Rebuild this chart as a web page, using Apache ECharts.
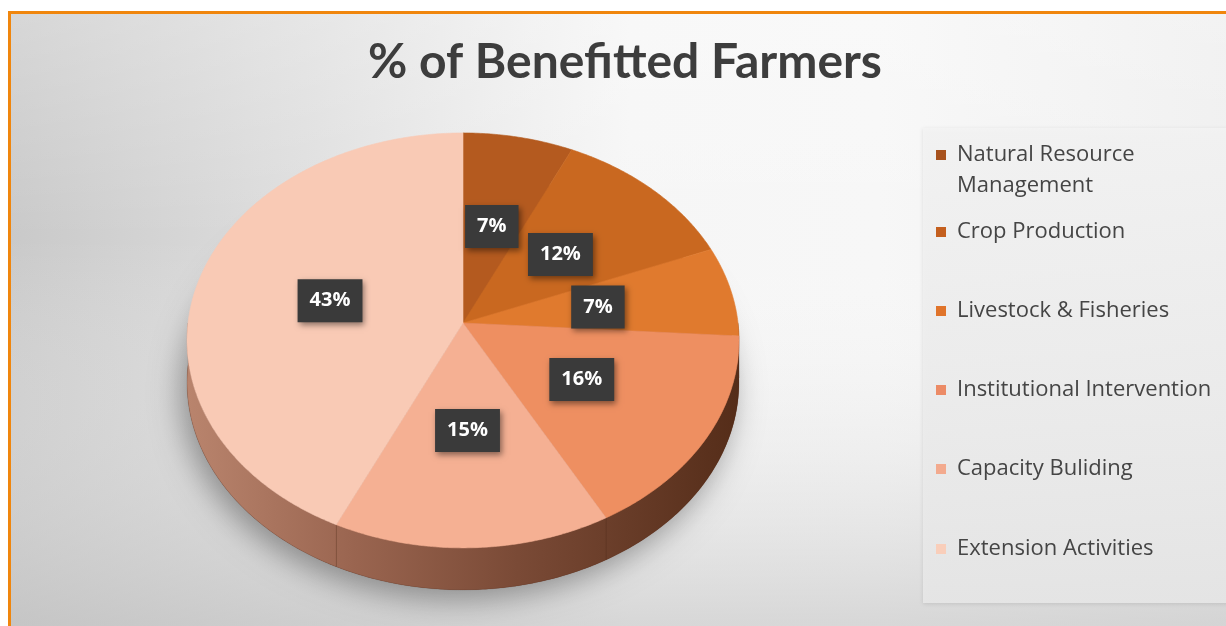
<!DOCTYPE html>
<html>
<head>
<meta charset="utf-8">
<script src="https://cdn.jsdelivr.net/npm/echarts@6/dist/echarts.min.js"></script>
<style>
  html, body { margin: 0; padding: 0; background: #ffffff; }
  #chart { width: 1226px; height: 626px; }
</style>
</head>
<body>
<div id="chart"></div>
<script>
// Share of benefitted farmers by activity (percent)
const categories = [
  'Natural Resource Management',
  'Crop Production',
  'Livestock & Fisheries',
  'Institutional Intervention',
  'Capacity Buliding',
  'Extension Activities'
];
const shares = [7, 12, 7, 16, 15, 43];
const sliceColors = ['#b45a1f', '#c96820', '#e07a2e', '#ee8f61', '#f5b093', '#f9cab5'];
const legendColors = ['#a8521d', '#c45f1e', '#e0742b', '#ec8b66', '#f3aa8e', '#f9ceba'];

// Tilted-disc geometry for the pie (simple perspective projection)
const CX = 463, CY = 323, RX = 275, RA = 206, PK = 0.084, DEPTH = 42;
const LABEL_R = 0.5;

const total = shares.reduce((s, v) => s + v, 0);

function project(theta, r, dy) {
  const u = r * Math.sin(theta), v = r * Math.cos(theta);
  const d = 1 + PK * v;
  return [CX + RX * u / d, CY - RA * v / d + (dy || 0)];
}
function arc(a, b, dy) {
  const pts = [];
  const n = Math.max(2, Math.ceil(Math.abs(b - a) / 0.01));
  for (let k = 0; k <= n; k++) pts.push(project(a + (b - a) * k / n, 1, dy));
  return pts;
}
function startOf(i) {
  let s = 0;
  for (let k = 0; k < i; k++) s += shares[k];
  return s;
}

const sideFill = {
  type: 'linear', global: true,
  x: CX - RX, y: 0, x2: CX + RX, y2: 0,
  colorStops: [
    { offset: 0, color: '#b9846d' },
    { offset: 0.3, color: '#9a6550' },
    { offset: 0.6, color: '#7a4a36' },
    { offset: 1, color: '#552d19' }
  ]
};

function renderSlice(params, api) {
  const i = params.seriesIndex;
  const value = api.value(0);
  const a = startOf(i) / total * 2 * Math.PI;
  const b = a + value / total * 2 * Math.PI;
  const color = api.visual('color');
  const children = [];

  if (i === 0) {
    // base of the disc, casting a soft shadow
    children.push({
      type: 'polygon', z2: 0,
      shape: { points: arc(0, 2 * Math.PI, DEPTH) },
      style: { fill: '#7a4a36', shadowBlur: 30, shadowOffsetY: 10, shadowOffsetX: -6, shadowColor: 'rgba(0,0,0,0.35)' }
    });
  }

  // visible front wall of this slice
  const lo = Math.max(a, Math.PI / 2), hi = Math.min(b, 1.5 * Math.PI);
  if (hi > lo) {
    children.push({
      type: 'polygon', z2: 1,
      shape: { points: arc(lo, hi, 0).concat(arc(hi, lo, DEPTH)) },
      style: { fill: sideFill, stroke: 'rgba(60,30,15,0.25)', lineWidth: 0.6 }
    });
  }

  // top face
  children.push({
    type: 'polygon', z2: 2,
    shape: { points: [[CX, CY]].concat(arc(a, b, 0)) },
    style: { fill: color, stroke: color, lineWidth: 0.6 }
  });

  // value label
  const mid = (a + b) / 2;
  const p = project(mid, LABEL_R, 0);
  children.push({
    type: 'text', z2: 10,
    x: p[0], y: p[1],
    style: {
      text: Math.round(value / total * 100) + '%',
      fill: '#ffffff',
      font: 'bold 20px "Open Sans"',
      align: 'center', verticalAlign: 'middle',
      backgroundColor: '#3a3a3a',
      padding: [12, 12, 11, 12],
      shadowBlur: 6, shadowOffsetX: 2, shadowOffsetY: 3,
      shadowColor: 'rgba(0,0,0,0.45)'
    }
  });

  return { type: 'group', children: children };
}

const series = categories.map((name, i) => ({
  type: 'custom',
  name: name,
  coordinateSystem: 'none',
  renderItem: renderSlice,
  itemStyle: { color: sliceColors[i] },
  data: [[shares[i]]],
  silent: true
}));

// legend rows: y of the first text line of each entry
const legendRows = [155, 232, 311, 390, 469, 549];
const LINE_H = 31;
const legends = categories.map((name, i) => {
  const multi = i === 0;
  return {
    data: [{ name: name, itemStyle: { color: legendColors[i] } }],
    orient: 'vertical',
    left: 936,
    top: multi ? legendRows[i] - LINE_H / 2 : legendRows[i] - 13,
    padding: 0,
    itemGap: 0,
    itemWidth: 10,
    // two-line entry: square sits at the top of a taller icon box, beside the first line
    itemHeight: multi ? LINE_H + 10 : 10,
    icon: multi ? 'path://M0,0h10v10h-10zM0,40.99h0.01v0.01h-0.01z' : 'rect',
    selectedMode: false,
    formatter: multi ? (n) => n.replace(' Management', '\nManagement') : undefined,
    textStyle: {
      fontFamily: '"Open Sans"',
      fontSize: 22,
      color: '#454545',
      lineHeight: multi ? LINE_H : 26,
      padding: [0, 0, 0, 6]
    }
  };
});

const option = {
  animation: false,
  graphic: [
    {
      type: 'rect', z: -10, silent: true,
      shape: { x: 9.5, y: 12.5, width: 1240, height: 640 },
      style: {
        fill: {
          type: 'linear', x: 0, y: 0, x2: 1, y2: 0,
          colorStops: [
            { offset: 0, color: '#c9c9c9' },
            { offset: 0.25, color: '#dfdfdf' },
            { offset: 0.5, color: '#f6f6f6' },
            { offset: 0.7, color: '#f7f7f7' },
            { offset: 1, color: '#eeeeee' }
          ]
        },
        stroke: '#f0860d', lineWidth: 3
      }
    },
    {
      type: 'rect', z: -9, silent: true,
      shape: { x: 11, y: 14, width: 1240, height: 640 },
      style: {
        fill: {
          type: 'linear', x: 0, y: 0, x2: 0, y2: 1,
          colorStops: [
            { offset: 0, color: 'rgba(255,255,255,0.25)' },
            { offset: 0.35, color: 'rgba(255,255,255,0)' },
            { offset: 0.95, color: 'rgba(195,195,195,0.6)' }
          ]
        }
      }
    },
    {
      type: 'rect', z: -8, silent: true,
      shape: { x: 923, y: 128, width: 320, height: 475 },
      style: {
        fill: {
          type: 'linear', x: 0, y: 0, x2: 0, y2: 1,
          colorStops: [
            { offset: 0, color: 'rgba(244,244,244,0.9)' },
            { offset: 1, color: 'rgba(232,232,232,0.9)' }
          ]
        },
        shadowBlur: 4, shadowOffsetY: 1, shadowColor: 'rgba(0,0,0,0.12)'
      }
    }
  ],
  title: {
    text: '% of Benefitted Farmers',
    left: 368,
    top: 39,
    padding: 0,
    textStyle: {
      fontFamily: 'Lato',
      fontWeight: 'bold',
      fontSize: 48,
      color: '#3d3d3d'
    }
  },
  legend: legends,
  series: series
};

const chart = echarts.init(document.getElementById('chart'));
chart.setOption(option);
</script>
</body>
</html>
